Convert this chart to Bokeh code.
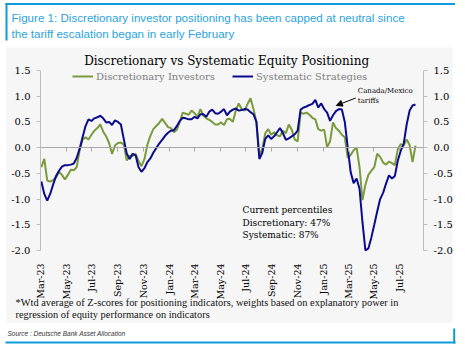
import numpy as np
import pandas as pd
from bokeh.plotting import figure
from bokeh.models import (FixedTicker, DatetimeTickFormatter, DatetimeAxis, LinearAxis, Label,
                          BoxAnnotation, Arrow, NormalHead, Legend, LegendItem,
                          PrintfTickFormatter, Range1d, CustomJSTickFormatter)
from bokeh.embed import file_html
from bokeh.resources import INLINE

# ---------------- data ----------------
dates = pd.date_range("2023-03-03", periods=128, freq="7D")

discretionary = [
    -0.38, -0.22, -0.64, -0.66, -0.63, -0.58, -0.47, -0.53, -0.62, -0.53,
    -0.43, -0.44, -0.38, -0.05, 0.16, 0.20, 0.16, 0.25, 0.33, 0.38,
    0.45, 0.31, 0.22, 0.09, -0.12, 0.04, 0.09, 0.10, 0.06, -0.25,
    -0.16, -0.16, -0.12, -0.26, -0.36, -0.22, 0.06, 0.23, 0.36, 0.42,
    0.48, 0.56, 0.48, 0.40, 0.38, 0.30, 0.35, 0.50, 0.68, 0.66,
    0.64, 0.72, 0.67, 0.60, 0.75, 0.62, 0.57, 0.54, 0.50, 0.45,
    0.45, 0.49, 0.44, 0.55, 0.56, 0.50, 0.72, 0.86, 0.75, 0.72,
    0.85, 0.96, 0.75, 0.50, -0.15, -0.02, 0.28, 0.36, 0.25, 0.30,
    0.24, 0.22, 0.33, 0.28, 0.45, 0.35, 0.16, 0.12, 0.68, 0.66,
    0.68, 0.64, 0.58, 0.55, 0.36, 0.33, 0.35, 0.01, 0.12, 0.49,
    0.38, 0.33, 0.25, 0.20, -0.20, -0.14, -0.05, 0.00, -0.38, -1.02,
    -0.72, -0.53, -0.45, -0.38, -0.12, -0.18, -0.29, -0.33, -0.27, -0.30,
    -0.34, -0.03, 0.07, 0.04, 0.16, 0.05, -0.28, 0.04,
]

systematic = [
    -0.66, -0.90, -1.03, -0.90, -0.72, -0.55, -0.45, -0.37, -0.34, -0.34,
    -0.33, -0.31, -0.20, -0.02, 0.20, 0.42, 0.55, 0.52, 0.57, 0.59,
    0.62, 0.57, 0.49, 0.50, 0.44, 0.53, 0.50, 0.45, 0.16, -0.12,
    -0.22, -0.12, -0.15, -0.38, -0.47, -0.40, -0.28, -0.21, -0.10, -0.01,
    0.08, 0.15, 0.23, 0.29, 0.33, 0.34, 0.42, 0.52, 0.58, 0.57,
    0.55, 0.55, 0.60, 0.57, 0.65, 0.65, 0.60, 0.70, 0.74, 0.67,
    0.66, 0.70, 0.75, 0.63, 0.70, 0.74, 0.76, 0.72, 0.73, 0.75,
    0.74, 0.69, 0.65, 0.50, -0.22, -0.10, 0.17, 0.24, 0.17, 0.22,
    0.30, 0.38, 0.28, 0.15, 0.18, 0.22, 0.26, 0.33, 0.74, 0.78,
    0.80, 0.83, 0.85, 0.93, 0.78, 0.86, 0.75, 0.68, 0.52, 0.63,
    0.71, 0.75, 0.74, 0.50, 0.00, -0.48, -0.69, -0.60, -0.80, -1.45,
    -2.00, -1.96, -1.75, -1.50, -1.24, -1.00, -0.88, -0.70, -0.54, -0.60,
    -0.55, -0.25, -0.06, 0.08, 0.45, 0.72, 0.82, 0.84,
]

x_tick_dates = ["2023-03-01", "2023-05-01", "2023-07-01", "2023-09-01", "2023-11-01",
                "2024-01-01", "2024-03-01", "2024-05-01", "2024-07-01", "2024-09-01",
                "2024-11-01", "2025-01-01", "2025-03-01", "2025-05-01", "2025-07-01"]
y_ticks = [-2.0, -1.5, -1.0, -0.5, 0.0, 0.5, 1.0, 1.5]
x_limits = ["2023-03-01", "2025-08-27"]
y_limits = [-2.0, 1.5]

series_names = ["Discretionary Investors", "Systematic Strategies"]
title_text = "Discretionary  vs Systematic Equity Positioning"
header_lines = ["Figure 1: Discretionary investor positioning has been capped at neutral since",
                "the tariff escalation began in early February"]
note_lines = ["*Wtd average of Z-scores for positioning indicators, weights based on explanatory power in",
              "regression of equity performance on indicators"]
source_text = "Source : Deutsche Bank Asset Allocation"
percentile_lines = ["Current percentiles", "Discretionary: 47%", "Systematic: 87%"]


def ms(d):
    return pd.Timestamp(d).value / 1e6


# ---------------- layout (pixel canvas + data ranges) ----------------
W, H = 465, 348
FL, FR, FT, FB = 40, 423, 70, 250          # plot-area edges in pixels
SERIF = "DejaVu Serif"
GREEN = "#7a9a3c"
NAVY = "#0b0b8c"
BLUE = "#0e9ad8"
AXIS_GRAY = "#bdbdbd"

D0, D1 = ms(x_limits[0]), ms(x_limits[1])
mpp = (D1 - D0) / (FR - FL)
upp = (y_limits[1] - y_limits[0]) / (FB - FT)

p = figure(width=W, height=H, output_backend="svg", toolbar_location=None,
           x_range=Range1d(0, W), y_range=Range1d(H, 0),
           x_axis_location=None, y_axis_location=None, min_border=0)
p.extra_x_ranges = {"date": Range1d(D0 - FL * mpp, D1 + (W - FR) * mpp)}
p.extra_y_ranges = {"val": Range1d(y_limits[0] - (H - FB) * upp, y_limits[1] + FT * upp)}
p.outline_line_color = None
p.background_fill_color = "white"
p.border_fill_color = "white"
p.grid.visible = False

# gray chart block
p.add_layout(BoxAnnotation(left=6, right=452, top=47, bottom=322,
                           fill_color="#f6f6f6", fill_alpha=1, line_color=None,
                           level="underlay"))

# blue frame pieces
for (l, r, t, b) in [(5, 454.5, 2.5, 4.5), (5, 7, 2.5, 40), (5, 455, 341, 343),
                     (452.7, 454.7, 328, 343)]:
    p.add_layout(BoxAnnotation(left=l, right=r, top=t, bottom=b,
                               fill_color=BLUE, fill_alpha=1, line_color=None))

tick_ms = [ms(d) for d in x_tick_dates]
fmt = "%b-%y"
dt_fmt = DatetimeTickFormatter(days=fmt, months=fmt, years=fmt, hours=fmt,
                               hourmin=fmt, minutes=fmt, minsec=fmt, seconds=fmt,
                               milliseconds=fmt, microseconds=fmt)

# x labels axis at bottom of plot area
xlab = DatetimeAxis(x_range_name="date", y_range_name="val", fixed_location=y_limits[0],
                    ticker=FixedTicker(ticks=tick_ms), formatter=dt_fmt)
xlab.axis_line_color = None
xlab.major_tick_line_color = None
xlab.minor_tick_line_color = None
xlab.major_label_orientation = np.pi / 2
xlab.major_label_standoff = 7
xlab.major_label_text_font = SERIF
xlab.major_label_text_font_size = "9.5px"
xlab.major_label_text_color = "black"
p.add_layout(xlab, "below")

# zero line axis with month ticks
xzero = DatetimeAxis(x_range_name="date", y_range_name="val", fixed_location=0,
                     ticker=FixedTicker(ticks=tick_ms),
                     formatter=CustomJSTickFormatter(code="return ''"),
                     bounds=(D0, D1))
xzero.axis_line_color = "#a8a8a8"
xzero.major_tick_line_color = "#a8a8a8"
xzero.major_tick_in = 0
xzero.major_tick_out = 4
xzero.minor_tick_line_color = None
p.add_layout(xzero, "below")

# y axes
left_axis = LinearAxis(x_range_name="date", y_range_name="val", fixed_location=D0,
                       bounds=tuple(y_limits))
right_axis = LinearAxis(x_range_name="date", y_range_name="val", fixed_location=D1,
                        bounds=tuple(y_limits))
p.add_layout(left_axis, "left")
p.add_layout(right_axis, "right")
for ax in [left_axis, right_axis]:
    ax.ticker = FixedTicker(ticks=y_ticks)
    ax.formatter = PrintfTickFormatter(format="%.1f")
    ax.axis_line_color = AXIS_GRAY
    ax.major_tick_line_color = AXIS_GRAY
    ax.major_tick_in = 0
    ax.major_tick_out = 4
    ax.minor_tick_line_color = None
    ax.major_label_standoff = 6
    ax.major_label_text_font = SERIF
    ax.major_label_text_font_size = "10px"
    ax.major_label_text_color = "black"

# series
g = p.line(dates, discretionary, line_color=GREEN, line_width=2,
           x_range_name="date", y_range_name="val")
b = p.line(dates, systematic, line_color=NAVY, line_width=2,
           x_range_name="date", y_range_name="val")

# legends (location = bottom-left corner, measured from canvas bottom-left)
for item, lx in [(LegendItem(label=series_names[0], renderers=[g]), 72),
                 (LegendItem(label=series_names[1], renderers=[b]), 232)]:
    leg = Legend(items=[item], location=(lx, H - 82), orientation="horizontal",
                 padding=0, margin=0, border_line_color=None, background_fill_alpha=0,
                 glyph_width=21, glyph_height=12, label_height=12, label_standoff=3,
                 label_text_font=SERIF, label_text_font_size="10px",
                 label_text_color="#808080")
    p.add_layout(leg)

# header
for i, t in enumerate(header_lines):
    p.add_layout(Label(x=11, y=17 + 16 * i, text=t, text_align="left",
                       text_baseline="middle", text_font="Liberation Sans",
                       text_font_size="11.6px", text_color="#2aa3dc"))

# chart title
p.add_layout(Label(x=228, y=60, text=title_text, text_align="center",
                   text_baseline="middle", text_font=SERIF, text_font_size="12px",
                   text_color="#000000"))

# footnote
for i, t in enumerate(note_lines):
    p.add_layout(Label(x=15, y=302 + 12 * i, text=t, text_align="left",
                       text_baseline="middle", text_font="Liberation Serif",
                       text_font_size="10.4px", text_color="#111111"))

# source
p.add_layout(Label(x=7, y=332.5, text=source_text, text_align="left",
                   text_baseline="middle", text_font="Liberation Sans",
                   text_font_style="italic", text_font_size="6.5px",
                   text_color="#333333"))

# in-plot annotations
for t, yv in zip(percentile_lines, [-1.222, -1.47, -1.705]):
    p.add_layout(Label(x=ms("2024-06-23"), y=yv, text=t, x_range_name="date",
                       y_range_name="val", text_align="left", text_baseline="middle",
                       text_font=SERIF, text_font_size="9px", text_color="black"))

for t, yv in [("Canada/Mexico", 1.10), ("tariffs", 0.90)]:
    p.add_layout(Label(x=ms("2025-03-24"), y=yv, text=t, x_range_name="date",
                       y_range_name="val", text_align="left", text_baseline="middle",
                       text_font=SERIF, text_font_size="7px", text_color="black"))

p.add_layout(Arrow(end=NormalHead(size=6, fill_color="black", line_color="black"),
                   x_start=ms("2025-03-19"), y_start=0.965,
                   x_end=ms("2025-02-01"), y_end=0.82,
                   x_range_name="date", y_range_name="val",
                   line_color="black", line_width=1))

open("out.html", "w").write(file_html(p, INLINE))
